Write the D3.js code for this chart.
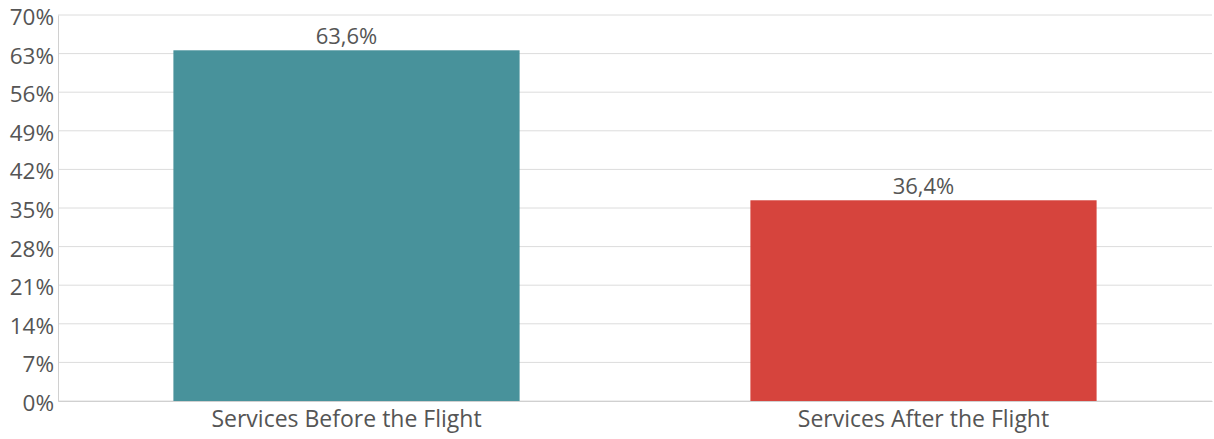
<!DOCTYPE html>
<html>
<head>
<meta charset="utf-8">
<script src="https://cdn.jsdelivr.net/npm/d3@7"></script>
<style>
  html, body { margin: 0; padding: 0; background: #fff; }
  svg { display: block; }
  svg text { font-family: "Open Sans", "Noto Sans", sans-serif; }
</style>
</head>
<body>
<svg id="chart" width="1214" height="439"></svg>
<script>
// Share of services by timing relative to the flight
const categories = ["Services Before the Flight", "Services After the Flight"];
const values = [63.6, 36.4];
const valueLabels = ["63,6%", "36,4%"];
const barColors = ["#48929b", "#d6443d"];
const yTicks = [0, 7, 14, 21, 28, 35, 42, 49, 56, 63, 70];

const width = 1214, height = 439;
const margin = { top: 15, right: 2, bottom: 38, left: 58 };
const fontFamily = '"Open Sans", "Noto Sans", sans-serif';

const svg = d3.select("#chart");

const x = d3.scaleBand()
  .domain(categories)
  .range([margin.left, width - margin.right])
  .paddingInner(0.4)
  .paddingOuter(0.2);

const y = d3.scaleLinear()
  .domain([0, 70])
  .range([height - margin.bottom, margin.top]);

// horizontal gridlines
svg.append("g")
  .selectAll("line")
  .data(yTicks)
  .join("line")
  .attr("x1", margin.left)
  .attr("x2", width - margin.right)
  .attr("y1", d => y(d))
  .attr("y2", d => y(d))
  .attr("stroke", "#dcdcdc")
  .attr("stroke-width", 1);

// y axis
const yAxis = svg.append("g")
  .attr("transform", `translate(${margin.left},0)`)
  .call(d3.axisLeft(y).tickValues(yTicks).tickFormat(d => d + "%").tickSize(0).tickPadding(4))
  .attr("font-family", fontFamily);
yAxis.select(".domain").attr("stroke", "#d0d0d0");
yAxis.selectAll("text")
  .attr("fill", "#555")
  .style("font-size", "22.5px")
  .attr("dy", "0.42em");

// bars
svg.append("g")
  .selectAll("rect")
  .data(categories)
  .join("rect")
  .attr("x", d => x(d))
  .attr("width", x.bandwidth())
  .attr("y", (d, i) => y(values[i]))
  .attr("height", (d, i) => y(0) - y(values[i]))
  .attr("fill", (d, i) => barColors[i]);

// x axis
const xAxis = svg.append("g")
  .attr("transform", `translate(0,${y(0)})`)
  .call(d3.axisBottom(x).tickSize(0).tickPadding(10))
  .attr("font-family", fontFamily);
xAxis.select(".domain").attr("stroke", "#d0d0d0");
xAxis.selectAll("text")
  .attr("fill", "#555")
  .style("font-size", "23px")
  .attr("dy", "0.71em");

// value labels above bars
svg.append("g")
  .selectAll("text")
  .data(categories)
  .join("text")
  .attr("x", d => x(d) + x.bandwidth() / 2)
  .attr("y", (d, i) => y(values[i]) - 6)
  .attr("text-anchor", "middle")
  .attr("fill", "#555")
  .style("font-size", "22px")
  .text((d, i) => valueLabels[i]);
</script>
</body>
</html>
